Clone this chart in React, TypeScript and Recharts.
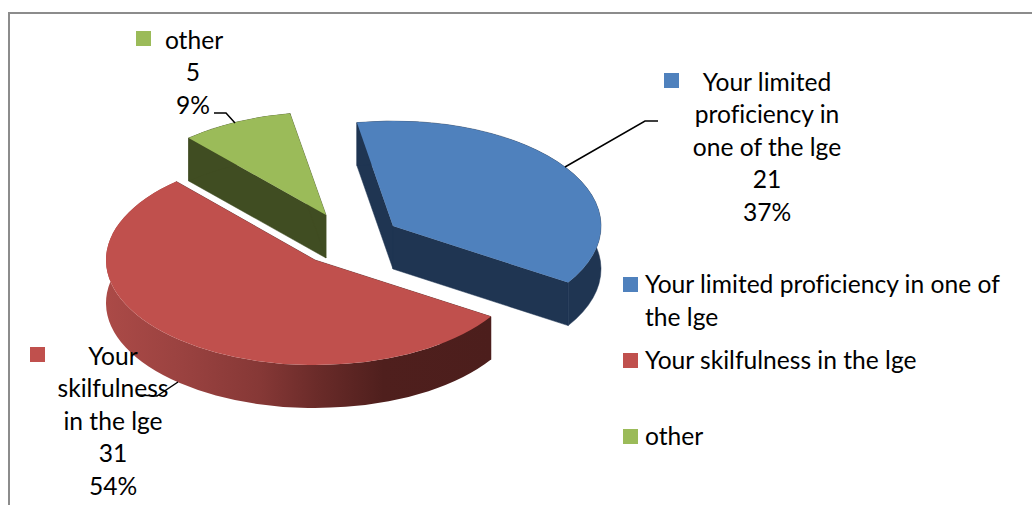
import { PieChart, Pie, Legend } from 'recharts';

const categories = ['Your limited proficiency in one of the lge', 'Your skilfulness in the lge', 'other'];
const values = [21, 31, 5];
const sliceColors = ['#4f81bd', '#c0504d', '#9bbb59'];
const wallColors = ['#1f3552', '#4c1e1c', '#404d22'];
const labelNames = [['Your limited', 'proficiency in', 'one of the lge'], ['Your', 'skilfulness', 'in the lge'], ['other']];

const data = categories.map((name, i) => ({ name, value: values[i], fill: sliceColors[i] }));

// fake 3d look: slices are squashed ellipses pulled apart, with a wall underneath
const DEPTH = 43;
const FONT = 'Lato, sans-serif';
const FONT_SIZE = 24.6;
const explode = [
  { dx: 53, dy: -4, grow: 1, ry: 105 },
  { dx: -25, dy: 30, grow: 2, ry: 105 },
  { dx: -14, dy: -15, grow: 0, ry: 103 },
];
const labelPos = [
  { x: 767, y: 81, keyX: 664, keyY: 73, leader: '658,121 645,121 565,167' },
  { x: 113, y: 355, keyX: 30, keyY: 347, leader: '138,395 157,396 178,382' },
  { x: 193, y: 39, keyX: 136, keyY: 31, leader: '214,113 226,113 235,123' },
];

const SliceShape = (props: any) => {
  const { cx, cy, outerRadius, startAngle, endAngle, fill, index } = props;
  const off = explode[index];
  const rx = outerRadius + off.grow;
  const ry = off.ry;
  const ax = cx + off.dx;
  const ay = cy + off.dy;
  const pt = (deg: number) => {
    const r = (deg * Math.PI) / 180;
    return [ax + rx * Math.cos(r), ay - ry * Math.sin(r)];
  };
  const [x1, y1] = pt(startAngle);
  const [x2, y2] = pt(endAngle);
  const large = Math.abs(startAngle - endAngle) > 180 ? 1 : 0;
  const wall = wallColors[index];
  const innerA = `M${x1},${y1} L${ax},${ay} L${ax},${ay + DEPTH} L${x1},${y1 + DEPTH} Z`;
  const innerB = `M${ax},${ay} L${x2},${y2} L${x2},${y2 + DEPTH} L${ax},${ay + DEPTH} Z`;
  const outer = `M${x1},${y1} A${rx},${ry} 0 ${large} 1 ${x2},${y2} L${x2},${y2 + DEPTH} A${rx},${ry} 0 ${large} 0 ${x1},${y1 + DEPTH} Z`;
  const top = `M${ax},${ay} L${x1},${y1} A${rx},${ry} 0 ${large} 1 ${x2},${y2} Z`;
  return (
    <g>
      <defs>
        <linearGradient id="redWall" gradientUnits="userSpaceOnUse" x1="106" y1="0" x2="491" y2="0">
          <stop offset="0%" stopColor="#ab4a47" />
          <stop offset="20%" stopColor="#9a4240" />
          <stop offset="40%" stopColor="#863836" />
          <stop offset="55%" stopColor="#6a2b29" />
          <stop offset="72%" stopColor="#4f1f1d" />
          <stop offset="100%" stopColor="#4c1e1c" />
        </linearGradient>
      </defs>
      <path d={innerA} fill={wall} stroke={wall} strokeWidth={0.5} />
      <path d={innerB} fill={wall} stroke={wall} strokeWidth={0.5} />
      {index === 1 ? (
        <path d={outer} fill="url(#redWall)" />
      ) : (
        <path d={outer} fill={wall} stroke={wall} strokeWidth={0.5} />
      )}
      <path d={top} fill={fill} />
    </g>
  );
};

const SliceLabel = (props: any) => {
  const { index } = props;
  const pos = labelPos[index];
  const pct = Math.round((values[index] / values.reduce((a, b) => a + b, 0)) * 100);
  const lines = [...labelNames[index], String(values[index]), `${pct}%`];
  return (
    <g>
      <polyline points={pos.leader} fill="none" stroke="#000" strokeWidth={1.5} />
      <rect x={pos.keyX} y={pos.keyY} width={15} height={15} fill={sliceColors[index]} />
      {lines.map((line, i) => (
        <text
          key={i}
          x={index === 2 && i === 0 ? 194 : pos.x}
          y={pos.y + i * 32.6}
          textAnchor="middle"
          dominantBaseline="central"
          fontFamily={FONT}
          fontSize={FONT_SIZE}
          fill="#000"
          style={{ fontVariantLigatures: 'none' }}
        >
          {line}
        </text>
      ))}
    </g>
  );
};

const LegendBox = ({ payload }: any) => (
  <div style={{ fontFamily: FONT, fontSize: FONT_SIZE, lineHeight: '33px', color: '#000', fontVariantLigatures: 'none' }}>
    {(payload || []).map((entry: any, i: number) => (
      <div key={i} style={{ position: 'relative', paddingLeft: 22, marginBottom: i === 1 ? 43 : 10 }}>
        <span style={{ position: 'absolute', left: 0, top: 10, width: 15, height: 15, background: entry.color }} />
        {entry.value}
      </div>
    ))}
  </div>
);

export default function App() {
  return (
    <div style={{ position: 'absolute', left: 0, top: 0, width: 1032, height: 505, overflow: 'hidden', background: '#fff' }}>
      <div style={{ position: 'absolute', left: 8, top: 12, width: 1200, height: 700, border: '2px solid #8c8c8c' }} />
      <PieChart width={1032} height={505} margin={{ top: 0, right: 0, bottom: 0, left: 0 }}>
        <Pie
          data={data}
          dataKey="value"
          nameKey="name"
          cx={340}
          cy={230}
          outerRadius={207}
          startAngle={100}
          endAngle={-260}
          stroke="none"
          shape={SliceShape}
          label={SliceLabel}
          labelLine={false}
          isAnimationActive={false}
        />
        <Legend
          content={LegendBox}
          layout="vertical"
          verticalAlign="top"
          align="right"
          wrapperStyle={{ position: 'absolute', left: 623, top: 267, width: 385 }}
        />
      </PieChart>
    </div>
  );
}
